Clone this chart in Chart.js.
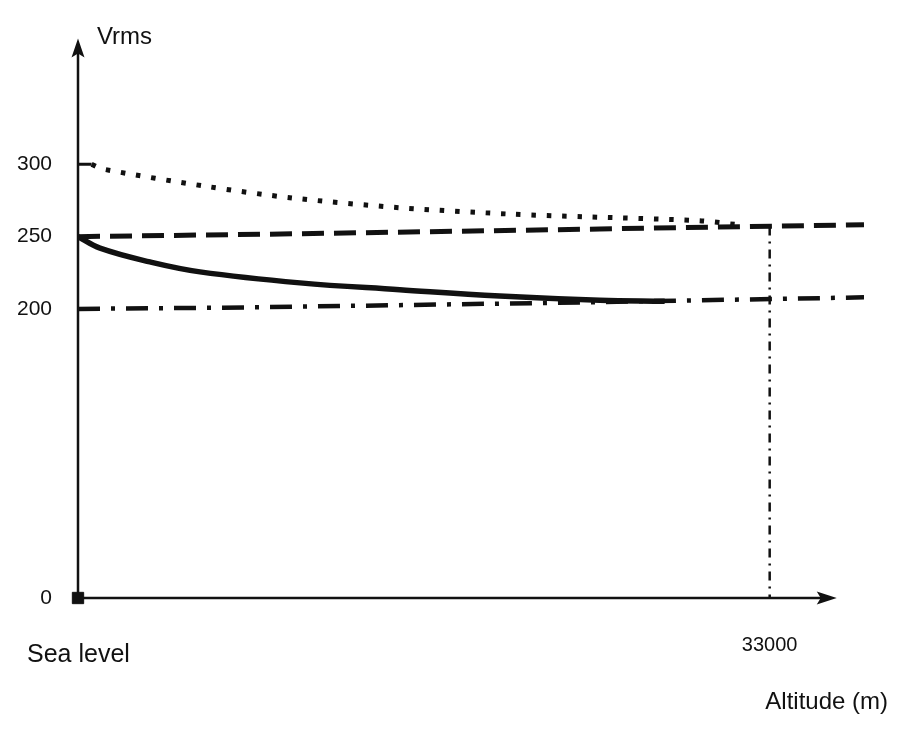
<!DOCTYPE html>
<html>
<head>
<meta charset="utf-8">
<script src="https://cdn.jsdelivr.net/npm/chart.js@4.4.0/dist/chart.umd.min.js"></script>
<style>
  html, body { margin: 0; padding: 0; background: #fff; }
  canvas { display: block; }
</style>
</head>
<body>
<canvas id="chart" width="899" height="731"></canvas>
<script>
  // axis setup
  const altitudeMax = 37500;
  const vrmsMax = 387;
  const axisArrowAlt = 36200;
  const xTickValues = [33000];
  const yTickValues = [0, 200, 250, 300];
  const yAxisLabel = "Vrms";
  const xAxisLabel = "Altitude (m)";
  const originLabel = "Sea level";

  // curves (altitude in m, Vrms)
  const bracketAlt = [0, 650];
  const bracketV = [300, 300];

  const dottedAlt = [650, 1200, 6150, 10250, 15350, 20600, 24100, 29650, 31330];
  const dottedV = [300, 296.7, 284.7, 276.7, 270, 265.6, 263.8, 261, 258.5];

  const dashedAlt = [0, 10600, 24900, 37500];
  const dashedV = [250, 252, 255.3, 258.2];

  const solidAlt = [0, 1050, 3430, 5820, 10590, 15350, 20120, 24890, 27990];
  const solidV = [250, 242, 232.5, 225.6, 218, 213.3, 208.9, 206, 205.3];

  const dashDotAlt = [0, 8000, 24000, 37500];
  const dashDotV = [200, 201, 204.5, 208];

  const markerAlt = [33000, 33000];
  const markerV = [257, 0];

  const originAlt = [0];
  const originV = [0];

  const pts = (xs, ys) => xs.map((x, i) => ({ x: x, y: ys[i] }));
  const ink = "#111";
  const font = "'Liberation Sans', Arial, sans-serif";

  const schematicAxes = {
    id: "schematicAxes",
    beforeDatasetsDraw(chart) {
      const { ctx, chartArea: a, scales: { x } } = chart;
      const xEnd = x.getPixelForValue(axisArrowAlt);
      ctx.save();
      ctx.strokeStyle = ink;
      ctx.fillStyle = ink;
      ctx.lineWidth = 2.5;
      ctx.beginPath();
      ctx.moveTo(a.left, a.bottom);
      ctx.lineTo(a.left, a.top + 12);
      ctx.moveTo(a.left, a.bottom);
      ctx.lineTo(xEnd - 12, a.bottom);
      ctx.stroke();

      // arrow heads
      ctx.beginPath();
      ctx.moveTo(a.left, a.top);
      ctx.lineTo(a.left - 6.5, a.top + 19);
      ctx.lineTo(a.left, a.top + 15);
      ctx.lineTo(a.left + 6.5, a.top + 19);
      ctx.closePath();
      ctx.moveTo(xEnd, a.bottom);
      ctx.lineTo(xEnd - 20, a.bottom - 6.5);
      ctx.lineTo(xEnd - 16, a.bottom);
      ctx.lineTo(xEnd - 20, a.bottom + 6.5);
      ctx.closePath();
      ctx.fill();

      // axis texts
      ctx.textBaseline = "alphabetic";
      ctx.textAlign = "left";
      ctx.font = "24px " + font;
      ctx.fillText(yAxisLabel, a.left + 19, a.top + 5);
      ctx.font = "25px " + font;
      ctx.fillText(originLabel, a.left - 51, a.bottom + 64);
      ctx.font = "24px " + font;
      ctx.textAlign = "right";
      ctx.fillText(xAxisLabel, a.right + 24, a.bottom + 111);
      ctx.restore();
    }
  };

  new Chart(document.getElementById("chart"), {
    type: "line",
    data: {
      datasets: [
        { data: pts(bracketAlt, bracketV), borderColor: ink, borderWidth: 3 },
        { data: pts(dottedAlt, dottedV), borderColor: ink, borderWidth: 5, borderDash: [4.5, 10.8], tension: 0.3 },
        { data: pts(dashedAlt, dashedV), borderColor: ink, borderWidth: 5, borderDash: [22, 10] },
        { data: pts(solidAlt, solidV), borderColor: ink, borderWidth: 5.5, tension: 0.4 },
        { data: pts(dashDotAlt, dashDotV), borderColor: ink, borderWidth: 4.5, borderDash: [22, 11, 4, 11] },
        { data: pts(markerAlt, markerV), borderColor: ink, borderWidth: 2.5, borderDash: [9, 6, 2, 6] },
        {
          data: pts(originAlt, originV), showLine: false, clip: false,
          pointRadius: 8, pointStyle: "rect", pointBackgroundColor: ink, pointBorderColor: ink
        }
      ]
    },
    options: {
      responsive: false,
      animation: false,
      devicePixelRatio: 1,
      layout: { padding: { top: 27, right: 35, left: 0, bottom: 0 } },
      elements: { point: { radius: 0 }, line: { borderCapStyle: "butt" } },
      plugins: { legend: { display: false }, tooltip: { enabled: false } },
      scales: {
        x: {
          type: "linear", min: 0, max: altitudeMax,
          afterBuildTicks: (s) => { s.ticks = xTickValues.map(v => ({ value: v })); },
          afterFit: (s) => { s.height = 133; },
          grid: { display: false, drawTicks: false },
          border: { display: false },
          ticks: {
            padding: 35, autoSkip: false, maxRotation: 0, color: ink,
            font: { family: font, size: 20 },
            callback: (v) => String(v)
          }
        },
        y: {
          type: "linear", min: 0, max: vrmsMax,
          afterBuildTicks: (s) => { s.ticks = yTickValues.map(v => ({ value: v })); },
          afterFit: (s) => { s.width = 78; },
          grid: { display: false, drawTicks: false },
          border: { display: false },
          ticks: {
            padding: 26, autoSkip: false, color: ink,
            font: { family: font, size: 21 },
            callback: (v) => String(v)
          }
        }
      }
    },
    plugins: [schematicAxes]
  });
</script>
</body>
</html>
